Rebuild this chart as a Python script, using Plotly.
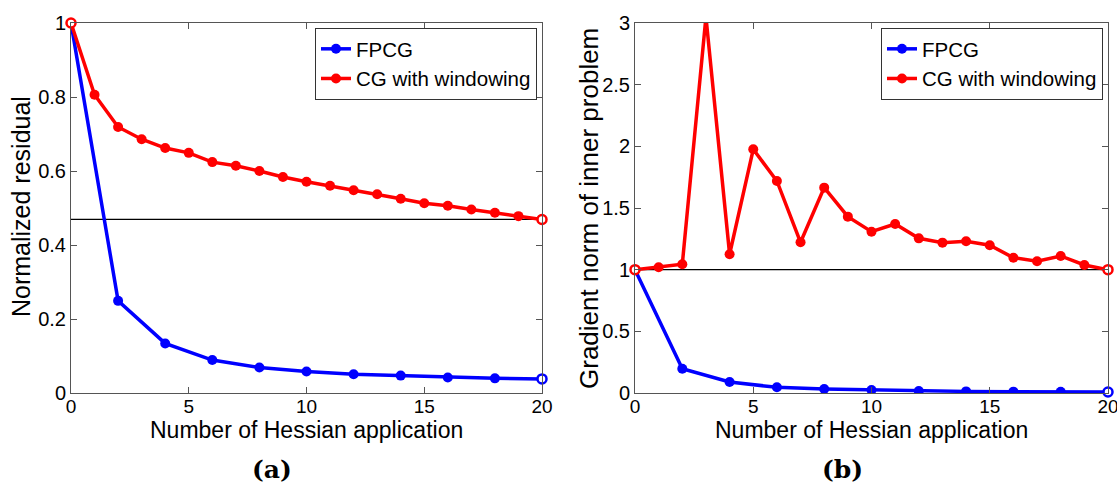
import plotly.graph_objects as go

# ---- data ----
x_fpcg = [0, 2, 4, 6, 8, 10, 12, 14, 16, 18, 20]
x_cg = list(range(21))

res_fpcg = [1.0, 0.249, 0.134, 0.089, 0.069, 0.058, 0.0505, 0.047, 0.042, 0.0396, 0.038]
res_cg = [1.0, 0.806, 0.719, 0.686, 0.662, 0.649, 0.624, 0.614, 0.600, 0.584, 0.571,
          0.560, 0.548, 0.537, 0.525, 0.513, 0.506, 0.496, 0.487, 0.478, 0.469]
res_ref = 0.469

grad_fpcg = [1.0, 0.197, 0.089, 0.046, 0.032, 0.024, 0.016, 0.013, 0.011, 0.010, 0.008]
grad_cg = [1.0, 1.019, 1.044, 3.05, 1.125, 1.976, 1.719, 1.222, 1.665, 1.43, 1.308,
           1.37, 1.254, 1.219, 1.23, 1.198, 1.097, 1.068, 1.111, 1.038, 1.0]
grad_ref = 1.0

left_yticks = [0, 0.2, 0.4, 0.6, 0.8, 1]
left_yticklabels = ["0", "0.2", "0.4", "0.6", "0.8", "1"]
right_yticks = [0, 0.5, 1, 1.5, 2, 2.5, 3]
right_yticklabels = ["0", "0.5", "1", "1.5", "2", "2.5", "3"]
xticks = [0, 5, 10, 15, 20]

names = ["FPCG", "CG with windowing"]
BLUE = "#0000ff"
RED = "#ff0000"
FONT = "Liberation Sans, Arial, sans-serif"

fig = go.Figure()


def add_panel(xa, ya, fp, cg, leg):
    fig.add_trace(go.Scatter(
        x=x_fpcg, y=fp, name=names[0], mode="lines+markers", xaxis=xa, yaxis=ya,
        line=dict(color=BLUE, width=3.5),
        marker=dict(size=10, color=BLUE), legend=leg,
    ))
    fig.add_trace(go.Scatter(
        x=x_cg, y=cg, name=names[1], mode="lines+markers", xaxis=xa, yaxis=ya,
        line=dict(color=RED, width=3.5),
        marker=dict(size=10, color=RED), legend=leg,
    ))
    # edge points drawn as rings (as in the reference)
    fig.add_trace(go.Scatter(
        x=[x_fpcg[-1]], y=[fp[-1]], mode="markers", xaxis=xa, yaxis=ya, showlegend=False,
        marker=dict(size=9, color="white", line=dict(color=BLUE, width=2.5)), cliponaxis=False,
    ))
    fig.add_trace(go.Scatter(
        x=[x_cg[0], x_cg[-1]], y=[cg[0], cg[-1]], mode="markers", xaxis=xa, yaxis=ya,
        showlegend=False, cliponaxis=False,
        marker=dict(size=9, color="white", line=dict(color=RED, width=2.5)),
    ))


add_panel("x", "y", res_fpcg, res_cg, "legend")
add_panel("x2", "y2", grad_fpcg, grad_cg, "legend2")

# reference horizontal lines
fig.add_shape(type="line", xref="x domain", yref="y", x0=0, x1=1, y0=res_ref, y1=res_ref,
              line=dict(color="black", width=1.2), layer="below")
fig.add_shape(type="line", xref="x2 domain", yref="y2", x0=0, x1=1, y0=grad_ref, y1=grad_ref,
              line=dict(color="black", width=1.2), layer="below")

W, H = 1117, 492
xd1 = [71 / W, 542 / W]
xd2 = [635 / W, 1108 / W]
yd = [1 - 393 / H, 1 - 23 / H]

axis_common = dict(
    showline=True, mirror="ticks", linecolor="#555555", linewidth=1,
    ticks="inside", ticklen=6, tickcolor="#555555", showgrid=False, zeroline=False,
    automargin=False, ticklabeloverflow="allow",
)
xfont = dict(family=FONT, size=19, color="black")
yfont = dict(family=FONT, size=20, color="black")

leg_common = dict(yanchor="top", y=1 - 28 / H, xanchor="right",
                  bgcolor="white", bordercolor="#333333", borderwidth=1,
                  font=dict(family=FONT, size=20.5, color="black"),
                  tracegroupgap=0, itemwidth=30)

fig.update_layout(
    width=W, height=H,
    margin=dict(l=0, r=0, t=0, b=0, autoexpand=False),
    paper_bgcolor="white", plot_bgcolor="white",
    xaxis=dict(domain=xd1, range=[0, 20], tickvals=xticks, anchor="y", tickfont=xfont,
               ticklabelstandoff=-4, **axis_common),
    yaxis=dict(domain=yd, range=[0, 1], tickvals=left_yticks, ticktext=left_yticklabels,
               anchor="x", tickfont=yfont, **axis_common),
    xaxis2=dict(domain=xd2, range=[0, 20], tickvals=xticks, anchor="y2", tickfont=xfont,
                ticklabelstandoff=-4, **axis_common),
    yaxis2=dict(domain=yd, range=[0, 3], tickvals=right_yticks, ticktext=right_yticklabels,
                anchor="x2", tickfont=yfont, **axis_common),
    legend=dict(x=537 / W, **leg_common),
    legend2=dict(x=1103 / W, **leg_common),
    showlegend=True,
)

CAP_FONT = dict(family="DejaVu Serif, Liberation Serif, serif", size=25, color="black")
base = dict(xref="paper", yref="paper", showarrow=False, xanchor="center", yanchor="middle")
annotations = [
    dict(text="Number of Hessian application", x=(xd1[0] + xd1[1]) / 2, y=1 - 430 / H,
         font=dict(family=FONT, size=23, color="black"), **base),
    dict(text="Number of Hessian application", x=(xd2[0] + xd2[1]) / 2, y=1 - 430 / H,
         font=dict(family=FONT, size=23, color="black"), **base),
    dict(text="Normalized residual", x=21 / W, y=1 - 207 / H, textangle=-90,
         font=dict(family=FONT, size=25, color="black"), **base),
    dict(text="Gradient norm of inner problem", x=589 / W, y=1 - 209 / H, textangle=-90,
         font=dict(family=FONT, size=26, color="black"), **base),
    dict(text="<b>(a)</b>", x=272 / W, y=1 - 469 / H, font=CAP_FONT, **base),
    dict(text="<b>(b)</b>", x=842 / W, y=1 - 469 / H, font=CAP_FONT, **base),
]
fig.update_layout(annotations=annotations)

fig.write_html("out.html", post_script="document.body.style.margin='0';",
               config={"displayModeBar": False})
